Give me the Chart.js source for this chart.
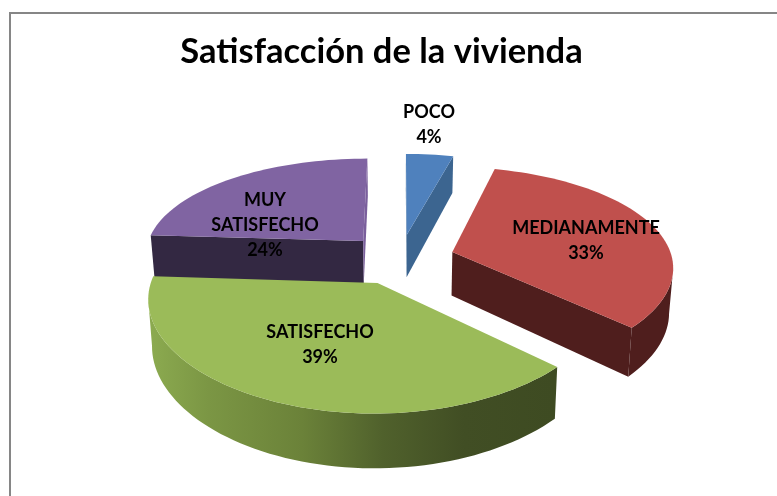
<!DOCTYPE html>
<html>
<head>
<meta charset="utf-8">
<script src="https://cdn.jsdelivr.net/npm/chart.js@4"></script>
<style>
html,body{margin:0;padding:0;background:#fff;overflow:hidden}
#frame{position:absolute;left:9px;top:12px;right:0;bottom:0;border-left:2px solid #868686;border-top:2px solid #868686}
#c{position:absolute;left:0;top:0}
</style>
</head>
<body>
<div id="frame"></div>
<canvas id="c" width="777" height="496"></canvas>
<script>
const chartTitle = 'Satisfacción de la vivienda';
const categories = ['POCO', 'MEDIANAMENTE', 'SATISFECHO', 'MUY SATISFECHO'];
const values = [4, 33, 39, 24];
const labelLines = [['POCO', '4%'], ['MEDIANAMENTE', '33%'], ['SATISFECHO', '39%'], ['MUY', 'SATISFECHO', '24%']];
const topColors = ['#4f81bd', '#c0504d', '#9bbb59', '#8064a2'];
const outerWallColors = ['#3c6590', '#4f1e1d', null, '#332842'];
const cutWallColors = ['#3c6590', '#4f1e1d', '#4a5a2a', '#7a5f9c'];
const startCutWallColors = ['#3c6590', '#4f1e1d', '#4a5a2a', '#332842'];
const drawOrder = [3, 0, 1, 2];
const labelCentres = [[429, 112], [586, 228], [320, 332], [265, 200]];

const view = {shiftX: 18.5, tilt: 0.459, persp: 0.16, perspX: 0.13, depth: 44, shrink: 0.985, arcSteps: 90, lineGap: 25.3};

const pie3d = {
  id: 'pie3d',
  beforeDatasetDraw() { return false; },
  afterDatasetsDraw(chart) {
    const ctx = chart.ctx;
    const arcs = chart.getDatasetMeta(0).data;
    const greenGrad = ctx.createLinearGradient(148, 0, 553, 0);
    greenGrad.addColorStop(0, '#8cab50');
    greenGrad.addColorStop(0.15, '#7b9644');
    greenGrad.addColorStop(0.38, '#6b8239');
    greenGrad.addColorStop(0.58, '#50612c');
    greenGrad.addColorStop(0.78, '#414e24');
    greenGrad.addColorStop(1, '#3e4b22');
    const fillPoly = (pts, style) => {
      ctx.beginPath();
      pts.forEach((p, i) => i ? ctx.lineTo(p[0], p[1]) : ctx.moveTo(p[0], p[1]));
      ctx.closePath();
      ctx.fillStyle = style;
      ctx.fill();
    };
    drawOrder.forEach(i => {
      const arc = arcs[i];
      const R = arc.outerRadius;
      const cx = arc.x + view.shiftX;
      const mid = (arc.startAngle + arc.endAngle) / 2;
      const shift = (arc.options.offset || 0) / 4;
      const ox = Math.cos(mid) * shift, oy = Math.sin(mid) * shift;
      const project = (X, Y) => {
        const w = 1 / (1 - view.persp * Y / R);
        const wx = 1 / (1 - view.perspX * Y / R);
        return [cx + X * wx, arc.y + view.tilt * Y * w, w];
      };
      const bottom = p => [cx + (p[0] - cx) * view.shrink, p[1] + view.depth * p[2], p[2]];
      const band = (pts, style) => fillPoly(pts.concat(pts.map(bottom).reverse()), style);
      const centre = project(ox, oy);
      const rim = [];
      const n = Math.max(4, Math.ceil(view.arcSteps * (arc.endAngle - arc.startAngle) / Math.PI));
      for (let s = 0; s <= n; s++) {
        const a = arc.startAngle + (arc.endAngle - arc.startAngle) * s / n;
        rim.push(project(ox + Math.cos(a) * R, oy + Math.sin(a) * R));
      }
      if (centre[0] > rim[0][0]) band([centre, rim[0]], startCutWallColors[i]);
      const last = rim[rim.length - 1];
      if (last[0] > centre[0]) band([last, centre], cutWallColors[i]);
      const run = rim.filter((p, s) =>
        (s < n && rim[s + 1][0] < p[0]) || (s > 0 && p[0] < rim[s - 1][0]));
      if (run.length > 1) band(run, outerWallColors[i] || greenGrad);
      fillPoly([centre].concat(rim), arc.options.backgroundColor);
    });
    ctx.fillStyle = '#000';
    ctx.font = 'bold 18px Lato';
    ctx.textAlign = 'center';
    ctx.textBaseline = 'middle';
    labelLines.forEach((lines, i) => {
      lines.forEach((t, j) => {
        ctx.fillText(t, labelCentres[i][0], labelCentres[i][1] + j * view.lineGap);
      });
    });
  }
};

new Chart(document.getElementById('c'), {
  type: 'pie',
  data: {
    labels: categories,
    datasets: [{
      data: values,
      backgroundColor: topColors,
      borderWidth: 0,
      offset: 220,
      radius: 220
    }]
  },
  options: {
    responsive: false,
    animation: false,
    events: [],
    layout: {padding: {left: 0, right: 14, top: 0, bottom: 54}},
    plugins: {
      legend: {display: false},
      tooltip: {enabled: false},
      title: {
        display: true,
        text: chartTitle,
        color: '#000',
        font: {family: 'Lato', size: 34.5, weight: 'bold'},
        padding: {top: 31, bottom: 3.6}
      }
    }
  },
  plugins: [pie3d]
});
</script>
</body>
</html>
